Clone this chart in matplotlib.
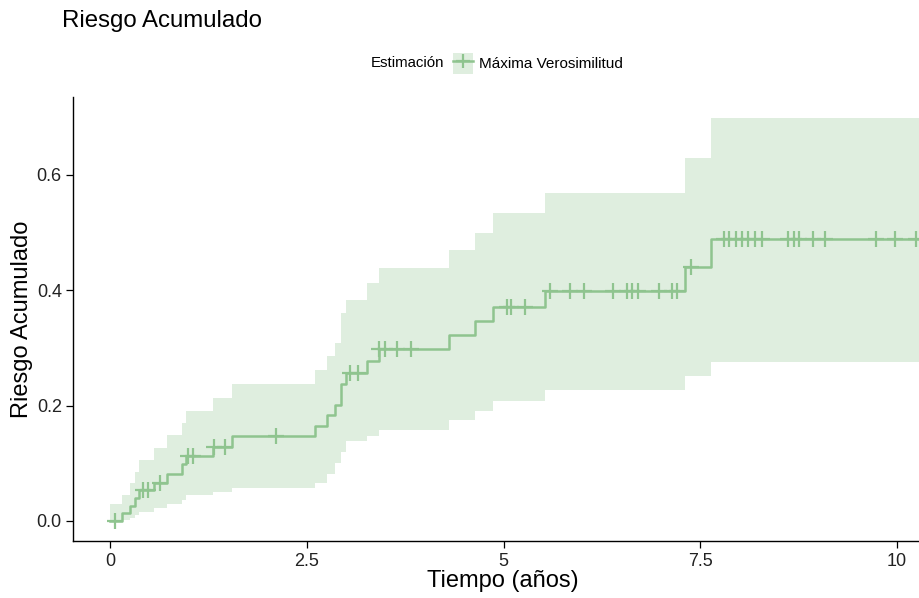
import numpy as np
import matplotlib.pyplot as plt
from matplotlib.patches import Patch
from matplotlib.lines import Line2D

plt.rcParams['font.family'] = ['Liberation Sans', 'DejaVu Sans']

# Cumulative hazard estimate (step function, value after each event time)
event_times = [0.0, 0.146, 0.25, 0.31, 0.36, 0.55, 0.72, 0.91, 0.96, 1.30, 1.54,
               2.60, 2.75, 2.86, 2.93, 3.00, 3.26, 3.41, 4.30, 4.64, 4.87, 5.53,
               7.31, 7.64]
cum_hazard = [0.0, 0.013, 0.026, 0.039, 0.053, 0.066, 0.082, 0.098, 0.113, 0.129,
              0.147, 0.165, 0.183, 0.201, 0.238, 0.257, 0.278, 0.299, 0.323, 0.347,
              0.371, 0.398, 0.441, 0.488]
ci_upper = [0.03, 0.045, 0.065, 0.085, 0.106, 0.126, 0.149, 0.17, 0.19, 0.213,
            0.2375, 0.262, 0.286, 0.308, 0.36, 0.383, 0.412, 0.438, 0.47, 0.50,
            0.5335, 0.569, 0.63, 0.698]
ci_lower = [0.0, 0.002, 0.006, 0.01, 0.016, 0.022, 0.03, 0.036, 0.045, 0.05,
            0.057, 0.066, 0.081, 0.10, 0.12, 0.139, 0.147, 0.158, 0.175, 0.19,
            0.2086, 0.227, 0.251, 0.275]
end_time = 10.45

# Censored observations
censor_times = [0.06, 0.42, 0.48, 0.63, 0.98, 1.05, 1.32, 1.46, 2.11, 3.05, 3.15,
                3.42, 3.49, 3.65, 3.82, 5.04, 5.10, 5.27, 5.59, 5.84, 6.02, 6.39,
                6.57, 6.63, 6.71, 6.97, 7.14, 7.20, 7.38, 7.80, 7.87, 7.95, 8.03,
                8.11, 8.20, 8.28, 8.62, 8.69, 8.76, 8.94, 9.09, 9.74, 9.98, 10.25]

line_col = '#8fc48f'
band_col = '#dfeedf'

t = np.append(event_times, end_time)
h = np.append(cum_hazard, cum_hazard[-1])
up = np.append(ci_upper, ci_upper[-1])
lo = np.append(ci_lower, ci_lower[-1])

idx = np.searchsorted(event_times, censor_times, side='right') - 1
censor_vals = np.array(cum_hazard)[idx]

fig = plt.figure(figsize=(9.2, 5.98), dpi=100)
# panel runs slightly past the right edge of the canvas
ax = fig.add_axes([0.0793, 0.0953, 0.9348, 0.7425])

ax.fill_between(t, lo, up, step='post', color=band_col, linewidth=0)
ax.step(t, h, where='post', color=line_col, linewidth=1.8)
ax.plot(censor_times, censor_vals, linestyle='none', marker='+',
        markersize=11, markeredgewidth=1.6, color=line_col)

ax.set_xlim(-0.477, 10.46)
ax.set_ylim(-0.0347, 0.735)
ax.set_xticks([0, 2.5, 5, 7.5, 10])
ax.set_xticklabels(['0', '2.5', '5', '7.5', '10'])
ax.set_yticks([0.0, 0.2, 0.4, 0.6])
ax.set_yticklabels(['0.0', '0.2', '0.4', '0.6'])
for s in ['top', 'right']:
    ax.spines[s].set_visible(False)
for s in ['left', 'bottom']:
    ax.spines[s].set_linewidth(1.0)
ax.tick_params(axis='both', length=5, width=0.9, labelsize=13,
               labelcolor='#222222')
ax.tick_params(axis='y', pad=3)

ax.set_xlabel('Tiempo (años)', fontsize=17, labelpad=0)
ax.set_ylabel('Riesgo Acumulado', fontsize=17, labelpad=3)

fig.text(0.067, 0.965, 'Riesgo Acumulado', fontsize=17.3, va='center', ha='left')

fig.text(0.403, 0.894, 'Estimación', fontsize=10.8, va='center', ha='left')
key = (Patch(facecolor=band_col, edgecolor='none'),
       Line2D([], [], color=line_col, linewidth=1.8, marker='+',
              markersize=10, markeredgewidth=1.6))
fig.legend([key], ['Máxima Verosimilitud'], loc='center left',
           bbox_to_anchor=(0.492, 0.894), frameon=False, fontsize=11,
           handlelength=1.35, handleheight=1.7, handletextpad=0.4,
           borderpad=0, borderaxespad=0)

fig.savefig('out.png', dpi=100)
